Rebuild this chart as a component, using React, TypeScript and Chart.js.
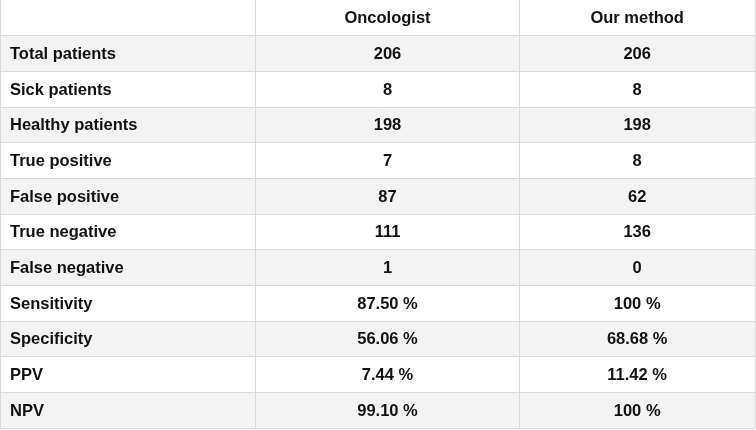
import React, { useEffect, useRef } from "react";
import { Chart, registerables } from "chart.js";

Chart.register(...registerables);

// ---- data ----
const columnHeaders = ["", "Oncologist", "Our method"];
const rowLabels = [
  "Total patients",
  "Sick patients",
  "Healthy patients",
  "True positive",
  "False positive",
  "True negative",
  "False negative",
  "Sensitivity",
  "Specificity",
  "PPV",
  "NPV",
];
const oncologistValues = ["206", "8", "198", "7", "87", "111", "1", "87.50 %", "56.06 %", "7.44 %", "99.10 %"];
const ourMethodValues = ["206", "8", "198", "8", "62", "136", "0", "100 %", "68.68 %", "11.42 %", "100 %"];

// ---- layout / style constants ----
const COL_WIDTHS = [256, 264, 236];
const W = 756;
const H = 430;
const FONT = 'bold 16.5px "Liberation Sans", Arial, Helvetica, sans-serif';
const TEXT_COLOR = "#111111";
const STRIPE = "#f3f3f3";
const GRID = "#dadada";

export default function App() {
  const ref = useRef<HTMLCanvasElement | null>(null);

  useEffect(() => {
    if (!ref.current) return;
    const total = COL_WIDTHS.reduce((a, b) => a + b, 0);
    const edges: number[] = [0];
    COL_WIDTHS.forEach((w) => edges.push(edges[edges.length - 1] + w));

    const allRows = ["header", ...rowLabels];
    const bodyCells = allRows.map((_, i) =>
      i === 0 ? columnHeaders : [rowLabels[i - 1], oncologistValues[i - 1], ourMethodValues[i - 1]]
    );

    const textPlugin = {
      id: "tableText",
      afterDraw(chart: any) {
        const ctx = chart.ctx;
        const xs = chart.scales.x;
        const ys = chart.scales.y;
        ctx.save();
        ctx.font = FONT;
        ctx.fillStyle = TEXT_COLOR;
        ctx.textBaseline = "middle";
        bodyCells.forEach((cells, r) => {
          const y = ys.getPixelForValue(r);
          cells.forEach((txt, c) => {
            if (!txt) return;
            if (c === 0) {
              ctx.textAlign = "left";
              ctx.fillText(txt, xs.getPixelForValue(edges[0]) + 10, y + 1);
            } else {
              ctx.textAlign = "center";
              ctx.fillText(txt, xs.getPixelForValue((edges[c] + edges[c + 1]) / 2), y + 1);
            }
          });
        });
        ctx.restore();
      },
    };

    const chart = new Chart(ref.current, {
      type: "bar",
      data: {
        labels: allRows,
        datasets: [
          {
            data: allRows.map(() => [0, total]) as any,
            backgroundColor: allRows.map((_, i) => (i % 2 === 1 ? STRIPE : "#ffffff")),
            borderWidth: 0,
            barPercentage: 1,
            categoryPercentage: 1,
          },
        ],
      },
      options: {
        indexAxis: "y",
        responsive: false,
        animation: false,
        events: [],
        layout: { padding: { left: 0, top: 0, right: 1, bottom: 2 } },
        plugins: { legend: { display: false }, tooltip: { enabled: false } },
        scales: {
          x: {
            type: "linear",
            min: 0,
            max: total,
            afterBuildTicks: (scale: any) => {
              scale.ticks = edges.map((v) => ({ value: v }));
            },
            ticks: { display: false },
            grid: { color: GRID, lineWidth: 1, drawTicks: false, z: 1 } as any,
            border: { display: false },
          },
          y: {
            type: "category",
            offset: true,
            ticks: { display: false },
            grid: { color: GRID, lineWidth: 1, drawTicks: false, offset: true, z: 1 } as any,
            border: { display: false },
          },
        },
      },
      plugins: [textPlugin],
    });
    return () => chart.destroy();
  }, []);

  return (
    <div style={{ position: "fixed", left: 0, top: 0, width: W, height: H, background: "#ffffff" }}>
      <canvas ref={ref} width={W} height={H} style={{ display: "block", width: W, height: H }} />
    </div>
  );
}
